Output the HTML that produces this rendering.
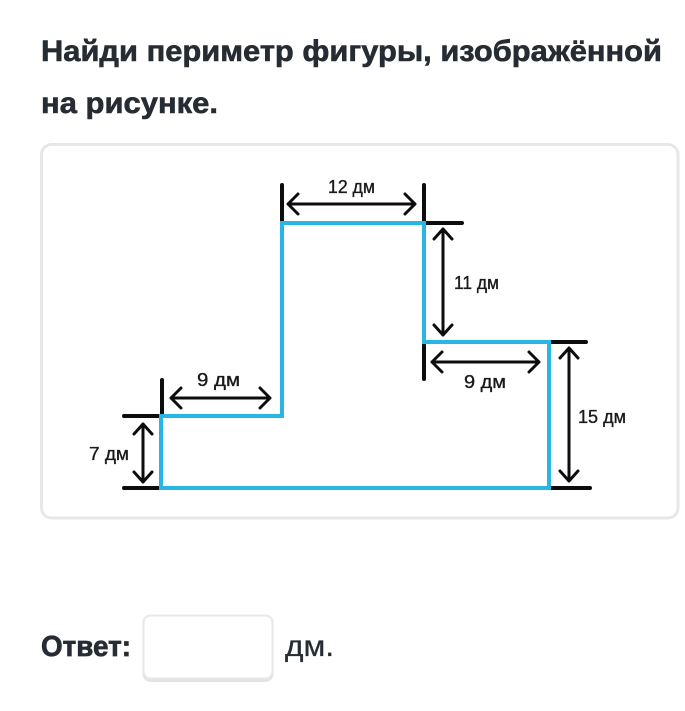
<!DOCTYPE html>
<html>
<head>
<meta charset="utf-8">
<style>
html,body{margin:0;padding:0;background:#fff;}
svg{display:block;}
text{font-family:"Liberation Sans",sans-serif;}
</style>
</head>
<body>
<svg width="685" height="711" viewBox="0 0 685 711" xmlns="http://www.w3.org/2000/svg">
<rect width="685" height="711" fill="#ffffff"/>
<g stroke="#262c33" stroke-width="0.6">
<text x="41" y="61" font-size="30" font-weight="700" fill="#262c33" textLength="621" lengthAdjust="spacingAndGlyphs">Найди периметр фигуры, изображённой</text>
<text x="41" y="113" font-size="30" font-weight="700" fill="#262c33" textLength="177" lengthAdjust="spacingAndGlyphs">на рисунке.</text>
</g>
<rect x="41.5" y="144.5" width="636.5" height="373.5" rx="10" fill="#fff" stroke="#e6e8e8" stroke-width="3"/>

<g stroke="#0d0d0d" fill="none" stroke-width="4" stroke-linecap="round">
<path d="M162 380V415M124 416H160M124 488H160"/>
<path d="M282 185V222M424 185V222M426 223H462"/>
<path d="M424 345V379M551 342H586M551 488H590"/>
</g>
<path d="M161 488V416H282V223H424V342H549V488Z" fill="none" stroke="#29b6e2" stroke-width="4" stroke-linejoin="miter"/>

<g stroke="#0d0d0d" fill="none" stroke-width="3" stroke-linecap="round" stroke-linejoin="round">
<path d="M171 398H270M181 388L171 398L181 408M260 388L270 398L260 408"/>
<path d="M143 424V482M134 434L143 424L152 434M134 472L143 482L152 472"/>
<path d="M288 204H415M298 194L288 204L298 214M405 194L415 204L405 214"/>
<path d="M443 229V335M434 239L443 229L452 239M434 325L443 335L452 325"/>
<path d="M432 362H539M442 352L432 362L442 372M529 352L539 362L529 372"/>
<path d="M569 348V481M560 358L569 348L578 358M560 471L569 481L578 471"/>
</g>

<g font-size="18" fill="#1a1a1a" stroke="#1a1a1a" stroke-width="0.35">
<text x="328" y="193" textLength="47" lengthAdjust="spacingAndGlyphs">12 дм</text>
<text x="454" y="289" textLength="45" lengthAdjust="spacingAndGlyphs">11 дм</text>
<text x="197" y="386" textLength="43" lengthAdjust="spacingAndGlyphs">9 дм</text>
<text x="464" y="388" textLength="42" lengthAdjust="spacingAndGlyphs">9 дм</text>
<text x="89" y="460" textLength="40" lengthAdjust="spacingAndGlyphs">7 дм</text>
<text x="578" y="423" textLength="48" lengthAdjust="spacingAndGlyphs">15 дм</text>
</g>

<text x="41" y="656" font-size="29" font-weight="700" fill="#262c33" stroke="#262c33" stroke-width="0.7" textLength="90" lengthAdjust="spacingAndGlyphs">Ответ:</text>
<rect x="142.5" y="618" width="131" height="64" rx="8" fill="#e2e4e4"/>
<rect x="143.5" y="615.5" width="129" height="63" rx="7" fill="#fff" stroke="#e6e8e8" stroke-width="2"/>
<text x="285" y="656" font-size="30" fill="#262c33" stroke="#262c33" stroke-width="0.3" textLength="49" lengthAdjust="spacingAndGlyphs">дм.</text>
</svg>
</body>
</html>
